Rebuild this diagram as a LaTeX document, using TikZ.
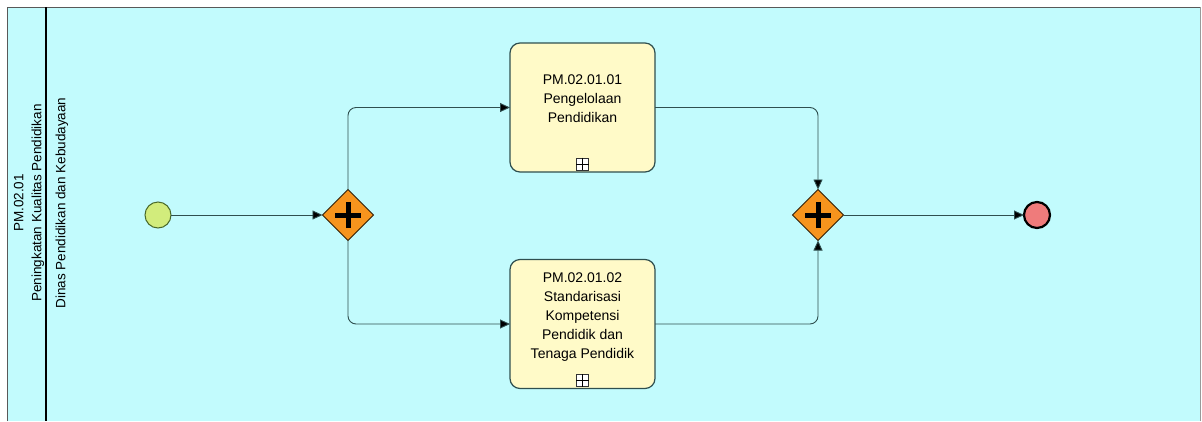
\documentclass[tikz,border=0pt]{standalone}
\usepackage{fontspec}
\setmainfont{Liberation Sans}
\usetikzlibrary{shapes.geometric,arrows.meta}
\definecolor{poolbg}{HTML}{C2FBFD}
\definecolor{taskfill}{HTML}{FFFAC8}
\definecolor{gatefill}{HTML}{F7941D}
\definecolor{startfill}{HTML}{D2EC7C}
\definecolor{startline}{HTML}{4A6A2A}
\definecolor{endfill}{HTML}{EF7B7B}
\definecolor{flowline}{HTML}{2F4F4F}
\tikzset{
  x=1pt,y=-1pt,
  taskbox/.style={draw=flowline,line width=1.2pt,fill=taskfill,rounded corners=10pt,
    minimum width=145pt,minimum height=129pt,inner sep=0pt,outer sep=0pt},
  tasktext/.style={align=center,font=\fontsize{14}{19}\selectfont,anchor=north,inner sep=0pt},
  gate/.style={diamond,draw=black!80!gatefill,line width=0.8pt,fill=gatefill,
    minimum width=51pt,minimum height=51pt,inner sep=0pt,outer sep=0pt},
  startev/.style={circle,draw=startline,line width=1pt,fill=startfill,minimum size=26pt,inner sep=0pt,outer sep=0pt},
  endev/.style={circle,draw=black,line width=2.2pt,fill=endfill,minimum size=26pt,inner sep=0pt,outer sep=0pt},
  flow/.style={draw=flowline,line width=0.9pt,rounded corners=8pt,-{Triangle[length=10pt,width=9pt,fill=black]}},
  lanetext/.style={rotate=90,font=\fontsize{13.5}{18}\selectfont,align=center},
}
\begin{document}
\begin{tikzpicture}
\useasboundingbox (0,0) rectangle (1202,421);
% pool
\fill[poolbg] (7,7) rectangle (1200,421);
\draw[gray!70!black,line width=1pt] (7,421) -- (7,7) -- (1200,7);
\draw[black!40,line width=0.6pt] (1200,7) -- (1200,421);
\draw[black,line width=2pt] (46,7) -- (46,421);
% lane labels
\node[lanetext] (pool) at (29,203) {PM.02.01\\Peningkatan Kualitas Pendidikan};
\node[lanetext] (lane) at (62,203) {Dinas Pendidikan dan Kebudayaan};
% nodes
\node[startev] (start) at (158,215) {};
\node[gate] (g1) at (348,215) {};
\node[gate] (g2) at (818,215) {};
\node[endev] (end) at (1037,215) {};
\node[taskbox] (t1) at (582.5,107.5) {};
\node[taskbox] (t2) at (582.5,324) {};
\node[tasktext] (t1l) at (582.5,75) {PM.02.01.01\\Pengelolaan\\Pendidikan};
\node[tasktext] (t2l) at (582.5,273) {PM.02.01.02\\Standarisasi\\Kompetensi\\Pendidik dan\\Tenaga Pendidik};
% plus signs in gateways
\foreach \g in {g1,g2}{
  \draw[black,line width=5pt] ([yshift=-13pt]\g.center) -- ([yshift=13pt]\g.center);
  \draw[black,line width=5pt] ([xshift=-13pt]\g.center) -- ([xshift=13pt]\g.center);
}
% collapsed-subprocess markers
\foreach \t in {t1,t2}{
  \node[draw=black!80,fill=white,line width=0.6pt,minimum size=12pt,inner sep=0pt] (m\t) at ([yshift=8pt]\t.south) {};
  \draw[line width=0.6pt] (m\t.west) -- (m\t.east) (m\t.north) -- (m\t.south);
}
% flows
\draw[flow] (start) -- (g1);
\draw[flow] (g1.north) |- (t1.west);
\draw[flow] (g1.south) |- (t2.west);
\draw[flow] (t1.east) -| (g2.north);
\draw[flow] (t2.east) -| (g2.south);
\draw[flow] (g2) -- (end);
\end{tikzpicture}
\end{document}
